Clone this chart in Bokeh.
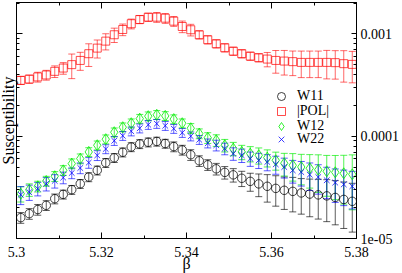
import numpy as np
from bokeh.plotting import figure
from bokeh.models import (ColumnDataSource, Whisker, TeeHead, Range1d, LogAxis, LinearAxis,
                          FixedTicker, CustomJSTickFormatter, Legend, LegendItem)
from bokeh.embed import file_html
from bokeh.resources import INLINE

# ---------------- data ----------------
beta = [5.301, 5.303, 5.305, 5.307, 5.309, 5.311, 5.313, 5.315, 5.317, 5.319,
        5.321, 5.323, 5.325, 5.327, 5.329, 5.331, 5.333, 5.335, 5.337, 5.339,
        5.341, 5.343, 5.345, 5.347, 5.349, 5.351, 5.353, 5.355, 5.357, 5.359,
        5.361, 5.363, 5.365, 5.367, 5.369, 5.371, 5.373, 5.375, 5.377, 5.379]

w11 = [1.60e-5, 1.75e-5, 1.92e-5, 2.11e-5, 2.45e-5, 2.70e-5, 3.00e-5, 3.43e-5, 3.99e-5, 4.64e-5,
       5.50e-5, 6.15e-5, 6.97e-5, 7.85e-5, 8.41e-5, 8.73e-5, 8.89e-5, 8.48e-5, 7.92e-5, 7.34e-5,
       6.59e-5, 5.75e-5, 5.26e-5, 4.80e-5, 4.43e-5, 4.19e-5, 3.88e-5, 3.62e-5, 3.42e-5, 3.24e-5,
       3.09e-5, 2.96e-5, 2.89e-5, 2.79e-5, 2.72e-5, 2.67e-5, 2.61e-5, 2.52e-5, 2.41e-5, 2.31e-5]
w11_rel_err = [0.12, 0.12, 0.12, 0.11, 0.11, 0.10, 0.10, 0.10, 0.10, 0.10,
               0.10, 0.10, 0.10, 0.10, 0.10, 0.10, 0.10, 0.10, 0.11, 0.11,
               0.12, 0.12, 0.12, 0.13, 0.14, 0.15, 0.17, 0.20, 0.25, 0.30,
               0.33, 0.35, 0.37, 0.38, 0.40, 0.42, 0.44, 0.46, 0.48, 0.50]

pol = [3.52e-4, 3.62e-4, 3.80e-4, 3.97e-4, 4.31e-4, 4.64e-4, 5.01e-4, 5.51e-4, 6.41e-4, 7.27e-4,
       8.51e-4, 9.82e-4, 1.106e-3, 1.259e-3, 1.385e-3, 1.459e-3, 1.459e-3, 1.426e-3, 1.333e-3, 1.183e-3,
       1.099e-3, 9.82e-4, 8.78e-4, 8.02e-4, 7.33e-4, 6.79e-4, 6.41e-4, 6.07e-4, 5.86e-4, 5.68e-4,
       5.51e-4, 5.43e-4, 5.36e-4, 5.27e-4, 5.27e-4, 5.27e-4, 5.27e-4, 5.24e-4, 5.12e-4, 5.04e-4]
pol_rel_err = [0.09, 0.09, 0.11, 0.11, 0.13, 0.13, 0.27, 0.20, 0.25, 0.20,
               0.18, 0.16, 0.13, 0.11, 0.09, 0.09, 0.11, 0.11, 0.11, 0.13,
               0.13, 0.09, 0.09, 0.09, 0.09, 0.09, 0.09, 0.09, 0.09, 0.16,
               0.25, 0.27, 0.27, 0.29, 0.29, 0.29, 0.31, 0.31, 0.34, 0.34]

w12 = [2.74e-5, 3.00e-5, 3.24e-5, 3.65e-5, 4.06e-5, 4.64e-5, 5.40e-5, 6.04e-5, 7.02e-5, 8.16e-5,
       9.35e-5, 1.094e-4, 1.225e-4, 1.34e-4, 1.485e-4, 1.57e-4, 1.62e-4, 1.58e-4, 1.47e-4, 1.34e-4,
       1.197e-4, 1.062e-4, 9.66e-5, 9.14e-5, 8.16e-5, 7.57e-5, 7.02e-5, 6.76e-5, 6.51e-5, 6.18e-5,
       5.82e-5, 5.44e-5, 5.20e-5, 5.00e-5, 4.86e-5, 4.70e-5, 4.54e-5, 4.44e-5, 4.34e-5, 4.24e-5]
w12_rel_err = [0.17, 0.14, 0.12, 0.11, 0.11, 0.11, 0.11, 0.11, 0.10, 0.10,
               0.10, 0.10, 0.10, 0.10, 0.10, 0.10, 0.10, 0.10, 0.10, 0.10,
               0.11, 0.11, 0.12, 0.13, 0.14, 0.15, 0.16, 0.17, 0.18, 0.19,
               0.20, 0.25, 0.30, 0.33, 0.36, 0.40, 0.43, 0.46, 0.50, 0.55]

w22 = [2.68e-5, 2.84e-5, 3.07e-5, 3.43e-5, 3.66e-5, 3.94e-5, 4.37e-5, 4.89e-5, 5.52e-5, 6.50e-5,
       7.50e-5, 9.03e-5, 1.011e-4, 1.12e-4, 1.197e-4, 1.296e-4, 1.326e-4, 1.267e-4, 1.185e-4, 1.082e-4,
       1.00e-4, 9.24e-5, 8.54e-5, 8.16e-5, 7.57e-5, 6.76e-5, 6.51e-5, 6.04e-5, 5.82e-5, 5.60e-5,
       5.31e-5, 5.00e-5, 4.64e-5, 4.46e-5, 4.21e-5, 3.99e-5, 3.71e-5, 3.52e-5, 3.38e-5, 3.24e-5]
w22_rel_err = [0.20, 0.17, 0.15, 0.15, 0.15, 0.13, 0.12, 0.12, 0.12, 0.11,
               0.10, 0.10, 0.10, 0.10, 0.10, 0.10, 0.10, 0.10, 0.10, 0.10,
               0.10, 0.10, 0.10, 0.12, 0.13, 0.14, 0.15, 0.16, 0.17, 0.18,
               0.20, 0.22, 0.25, 0.27, 0.30, 0.32, 0.34, 0.36, 0.38, 0.40]

series_labels = ["W11", "|POL|", "W12", "W22"]
x_major_ticks = [5.30, 5.32, 5.34, 5.36, 5.38]
x_minor_ticks = [5.31, 5.33, 5.35, 5.37]
y_major_ticks = [1e-5, 1e-4, 1e-3]
y_tick_labels = ["1e-05", "0.0001", "0.001"]
y_minor_ticks = [m * 10.0 ** e for e in (-5, -4, -3) for m in range(2, 10)]

FONT = "Liberation Serif"

p = figure(frame_width=340, frame_height=236,
           x_range=Range1d(5.3, 5.38), y_range=Range1d(1e-5, 2.03e-3),
           y_axis_type="log", output_backend="svg", toolbar_location=None,
           min_border_left=18, min_border_right=44, min_border_top=2, min_border_bottom=35,
           margin=(0, -4, -10, -4))
p.grid.visible = False
p.outline_line_color = "black"
p.background_fill_color = "white"

xt = FixedTicker(ticks=x_major_ticks, minor_ticks=x_minor_ticks)
yt = FixedTicker(ticks=y_major_ticks, minor_ticks=y_minor_ticks)
blank = CustomJSTickFormatter(code="return '';")


def style_axis(ax, labels=True):
    ax.axis_line_color = "black"
    ax.major_tick_line_color = "black"
    ax.minor_tick_line_color = "black"
    ax.major_tick_in = 6
    ax.major_tick_out = 0
    ax.minor_tick_in = 3
    ax.minor_tick_out = 0
    ax.major_label_text_font = FONT
    ax.major_label_text_color = "black"
    ax.major_label_text_font_size = "14px"
    ax.axis_label_text_font = FONT
    ax.axis_label_text_font_style = "normal"
    ax.axis_label_text_color = "black"
    ax.axis_label_text_font_size = "16px"
    if labels:
        ax.major_label_standoff = 4
    else:
        ax.formatter = blank
        ax.major_label_standoff = 0


bx = p.xaxis[0]
bx.ticker = xt
style_axis(bx)
bx.major_label_standoff = 8
bx.axis_label = "β"
bx.axis_label_standoff = -5

ly = p.yaxis[0]
ly.ticker = yt
style_axis(ly, labels=False)
ly.axis_label = "Susceptibility"
ly.axis_label_standoff = 0

top = LinearAxis(ticker=xt)
style_axis(top, labels=False)
p.add_layout(top, "above")

ry = LogAxis(ticker=yt, formatter=CustomJSTickFormatter(
    args=dict(tvals=y_major_ticks, tlabels=y_tick_labels),
    code="""
    let best = 0, d = Infinity;
    for (let i = 0; i < tvals.length; i++) {
        const dd = Math.abs(Math.log10(tick) - Math.log10(tvals[i]));
        if (dd < d) { d = dd; best = i; }
    }
    return tlabels[best];
    """))
style_axis(ry)
ry.major_tick_in = 5
ry.minor_tick_in = 3
p.add_layout(ry, "right")

specs = [
    (w11, w11_rel_err, "#000000", dict(marker="circle", size=8.5), 0.75),
    (pol, pol_rel_err, "#ff0000", dict(marker="square", size=8), 0.7),
    (w12, w12_rel_err, "#00ee00", dict(marker="diamond", size=11), 0.8),
    (w22, w22_rel_err, "#0000ff", dict(marker="x", size=8), 0.75),
]

# one single-item legend per row, so that the row pitch matches the reference
legend_rows_y = [132, 117, 102, 89]

for (vals, rel, color, mk, alpha), label, ly_pos in zip(specs, series_labels, legend_rows_y):
    v = np.array(vals)
    r = np.array(rel)
    src = ColumnDataSource(dict(x=beta, y=v, up=v * (1 + r), lo=v * (1 - r)))
    wh = Whisker(source=src, base="x", upper="up", lower="lo", dimension="height",
                 line_color=color, line_alpha=alpha * 0.85, line_width=1,
                 upper_head=TeeHead(size=7, line_color=color, line_alpha=alpha * 0.85, line_width=1),
                 lower_head=TeeHead(size=7, line_color=color, line_alpha=alpha * 0.85, line_width=1))
    p.add_layout(wh)
    rr = p.scatter("x", "y", source=src, fill_color=None, line_color=color,
                   line_alpha=alpha, line_width=1, **mk)
    leg = Legend(items=[LegendItem(label=label, renderers=[rr])], location=(255, ly_pos),
                 glyph_width=20, glyph_height=20, label_height=20, spacing=0, padding=0,
                 margin=0, label_standoff=6, border_line_color=None, background_fill_alpha=0,
                 label_text_font=FONT, label_text_font_size="14px", label_text_color="black")
    p.add_layout(leg)

open("out.html", "w").write(file_html(p, INLINE))
